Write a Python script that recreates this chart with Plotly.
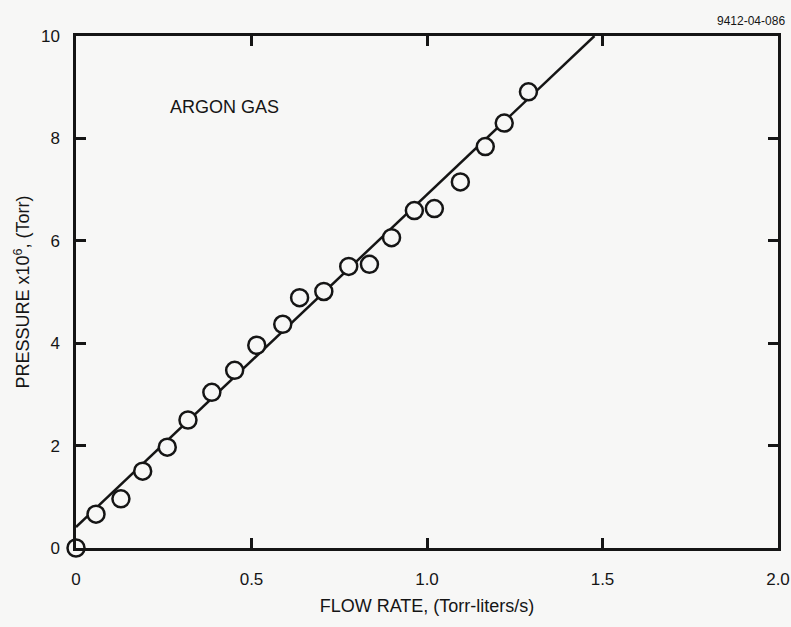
import plotly.graph_objects as go

flow_rate = [0.0, 0.057, 0.128, 0.19, 0.26, 0.319, 0.387, 0.452, 0.515, 0.589, 0.637,
             0.706, 0.777, 0.836, 0.899, 0.964, 1.021, 1.095, 1.166, 1.22, 1.289]
pressure = [0.0, 0.66, 0.96, 1.50, 1.97, 2.50, 3.04, 3.47, 3.96, 4.37, 4.89,
            5.01, 5.50, 5.54, 6.06, 6.59, 6.63, 7.15, 7.84, 8.30, 8.91]

fit_x = [0.0, 1.477]
fit_y = [0.41, 10.0]

x_ticks = [0, 0.5, 1.0, 1.5, 2.0]
x_tick_labels = ["0", "0.5", "1.0", "1.5", "2.0"]
y_ticks = [0, 2, 4, 6, 8, 10]
y_tick_labels = ["0", "2", "4", "6", "8", "10"]

ink = "#151515"
bg = "#f7f7f6"
font_family = "Liberation Sans, Arial, Helvetica, sans-serif"

fig = go.Figure()
fig.add_trace(go.Scatter(x=fit_x, y=fit_y, mode="lines",
                         line=dict(color=ink, width=2.5), showlegend=False,
                         cliponaxis=False))
fig.add_trace(go.Scatter(x=flow_rate, y=pressure, mode="markers",
                         marker=dict(symbol="circle", size=17, color=bg,
                                     line=dict(color=ink, width=2.5)),
                         showlegend=False, cliponaxis=False))

axis_common = dict(showgrid=False, zeroline=False, showline=True, linecolor=ink,
                   linewidth=2.5, ticks="inside", ticklen=10, tickwidth=2.5,
                   tickcolor=ink, mirror="ticks", automargin=False,
                   tickfont=dict(size=17, color=ink, family=font_family))

fig.update_layout(
    width=791, height=627,
    paper_bgcolor=bg, plot_bgcolor=bg,
    margin=dict(l=76, r=13, t=36, b=79, autoexpand=False),
    font=dict(family=font_family, color=ink),
    xaxis=dict(range=[0, 2.0], tickvals=x_ticks, ticktext=x_tick_labels,
               ticklabelstandoff=14,
               title=dict(text="FLOW RATE, (Torr-liters/s)", font=dict(size=18), standoff=12),
               **axis_common),
    yaxis=dict(range=[0, 10], tickvals=y_ticks, ticktext=y_tick_labels,
               ticklabelstandoff=10,
               title=dict(text="PRESSURE x10<sup>6</sup>, (Torr)", font=dict(size=18), standoff=7),
               **axis_common),
    annotations=[
        dict(x=0.424, y=8.62, xref="x", yref="y", text="ARGON GAS", showarrow=False,
             font=dict(size=18, color=ink)),
        dict(x=1.0, y=1.0, xref="paper", yref="paper", xanchor="right", yanchor="bottom",
             xshift=9, yshift=6, text="9412-04-086", showarrow=False,
             font=dict(size=12, color=ink)),
    ],
)

fig.write_html("out.html",
               config={"displayModeBar": False},
               post_script="document.body.style.margin='0';document.body.style.background='" + bg + "';")
